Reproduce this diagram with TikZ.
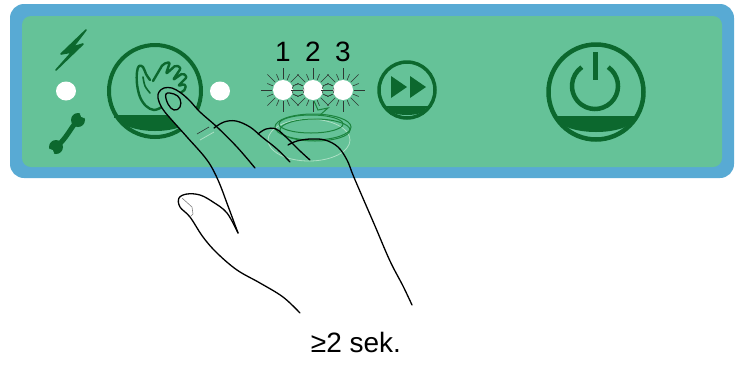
\documentclass[tikz,border=0pt]{standalone}
\usepackage{fontspec}
\setmainfont{Liberation Sans}
\usetikzlibrary{shapes.geometric}
\definecolor{panelgreen}{RGB}{101,194,152}
\definecolor{panelblue}{RGB}{88,170,212}
\definecolor{icongreen}{RGB}{12,104,46}
\definecolor{ringgreen}{RGB}{28,132,62}
\definecolor{palegreen}{RGB}{172,224,197}
\definecolor{raygray}{RGB}{45,55,50}
\begin{document}
\begin{tikzpicture}[x=1pt,y=-1pt,
  btn/.style={circle, draw=icongreen, line width=#1, inner sep=0pt},
  led/.style={circle, fill=white, minimum size=20pt, inner sep=0pt},
  whitedot/.style={ellipse, fill=white, minimum width=20pt, minimum height=19pt, inner sep=0pt},
  digit/.style={font=\fontsize{28}{30}\selectfont, text=black},
  handline/.style={draw=black, line width=1.3pt, line cap=round, line join=round},
  icon/.style={draw=icongreen, line width=2.4pt, line cap=round, line join=round},
  ray/.style={draw=raygray, line width=0.6pt},
  swirl/.style={draw=ringgreen, line width=1pt}
]
\useasboundingbox (0,0) rectangle (744,365);

% panel: blue frame with green face
\fill[panelblue, rounded corners=14pt] (10,4) rectangle (734,178);
\fill[panelgreen, rounded corners=9pt] (22,16) rectangle (722,167);

% status symbols on the left: power bolt, status dot, service wrench
\filldraw[icongreen, line width=1.6pt, line join=round]
  (86,30) -- (61,54) -- (72,52) -- (56,70) -- (83,44) -- (73,47) -- cycle;
\node[whitedot] (dotleft) at (66,91) {};
\draw[icongreen, line width=5pt, line cap=round]
  (77,121) .. controls (70,129) and (66,139) .. (57,146);
\fill[icongreen] (78,120) circle[radius=7];
\fill[icongreen] (56,147) circle[radius=7];
\fill[panelgreen] (84,114) circle[radius=4];
\fill[panelgreen] (50,153) circle[radius=4];

% hand button
\node[btn=4pt, minimum size=92pt] (handbtn) at (155,91) {};
\draw[icongreen, line width=3pt] (114,116) -- (196,116);
\fill[icongreen] (119,117) arc[start angle=180, end angle=0, x radius=36, y radius=14] -- cycle;
% open hand with palm
\draw[icon] plot[smooth, tension=0.6] coordinates
  {(150,80) (146,74) (143,67) (139,66) (137,72) (137,84) (140,97) (146,106) (154,110) (162,107)};
\draw[icongreen, line width=1.6pt, line cap=round] plot[smooth] coordinates {(143,77) (145,86) (150,93)};
% waving hand with fingers
\draw[icon, rounded corners=2pt]
  (153,81) -- (163,64) -- (170,62) -- (166,74) -- (176,65) -- (181,68) -- (173,80)
  -- (183,73) -- (187,77) -- (178,86) -- (185,84) -- (186,89) -- (176,96);

\node[whitedot] (dotright) at (220,91) {};

% program LEDs
\draw[raygray, line width=0.8pt] (283,90) -- (343,90);
\foreach \x/\n in {283/1, 313/2, 343/3} {
  \foreach \a in {0,22.5,...,337.5} {
    \pgfmathsetmacro{\len}{mod(round(\a/22.5),2)==0 ? 22 : 17}
    \draw[ray] ([shift={(\a:11)}]\x,90) -- ([shift={(\a:\len)}]\x,90);
  }
  \node[led] (led\n) at (\x,90) {};
  \node[digit] (lab\n) at (\x,52) {\n};
}
\draw[raygray, line width=0.5pt, densely dashed] (298,90) circle[radius=6];
\draw[raygray, line width=0.5pt, densely dashed] (328,90) circle[radius=6];

% fast forward button
\node[btn=3.5pt, minimum size=56pt] (ffbtn) at (407,90) {};
\draw[icongreen, line width=2.5pt] (385,107) -- (429,107);
\fill[icongreen] (388,108) arc[start angle=180, end angle=0, x radius=19, y radius=7] -- cycle;
\fill[icongreen] (391,76) -- (391,98) -- (407,87) -- cycle;
\fill[icongreen] (410,76) -- (410,98) -- (426,87) -- cycle;

% power button
\node[btn=4.5pt, minimum size=95pt] (powerbtn) at (596,92) {};
\draw[icongreen, line width=3pt] (555,117) -- (637,117);
\fill[icongreen] (558,118) arc[start angle=180, end angle=0, x radius=38, y radius=14] -- cycle;
\draw[icongreen, line width=4.5pt] ([shift={(-55:23)}]595,86) arc[start angle=-55, end angle=235, radius=23];
\draw[icongreen, line width=5pt] (595,52) -- (595,80);

% pointing finger covers what lies beneath it on the panel
\begin{scope}
  \clip[rounded corners=9pt] (22,16) rectangle (722,167);
  \fill[panelgreen] plot[smooth, tension=0.6] coordinates
    {(255,168) (237,147) (217,127) (200,112) (190,101) (181,93) (172,88) (164,88)
     (159,92) (158,98) (162,108) (170,118) (187,137) (207,160) (218,180)}
    -- (262,182) -- cycle;
\end{scope}

% swirl showing the selection cycling
\draw[draw=palegreen, line width=0.8pt] (309,140) ellipse[x radius=41, y radius=21];
\draw[swirl] (313,127) ellipse[x radius=38, y radius=13];
\draw[swirl] (315,130) ellipse[x radius=35, y radius=11];
\draw[swirl] (311,124) ellipse[x radius=32, y radius=9];
\draw[swirl] (320,115) -- (328,108) -- (318,110) -- (314,101);

% pointing hand
\draw[handline] plot[smooth, tension=0.6] coordinates
  {(255,168) (237,147) (217,127) (200,112) (190,101) (181,93) (172,88) (164,88)
   (159,92) (158,98) (162,108) (170,118) (187,137) (207,160) (218,180) (228,206) (238,233)};
\draw[handline] plot[smooth cycle, tension=0.7] coordinates
  {(166,94) (168,104) (174,110) (180,107) (180,99) (174,94)};
\draw[draw=raygray, line width=0.6pt] (197,134) -- (209,127);
\draw[draw=palegreen, line width=0.8pt] (200,140) -- (214,132);
% thumb
\draw[handline] plot[smooth, tension=0.6] coordinates
  {(238,233) (227,213) (213,202) (200,195) (187,194) (179,198) (180,207) (190,217)
   (203,237) (217,253) (237,270) (260,283) (283,297) (300,313)};
\draw[draw=gray, line width=0.6pt] (182,198) -- (192,207) -- (193,214) -- (190,217);
% curled fingers
\draw[handline] plot[smooth, tension=0.6] coordinates
  {(214,128) (224,122) (236,121) (250,127) (262,137) (277,149) (290,162)};
\draw[handline] plot[smooth, tension=0.6] coordinates
  {(258,134) (266,129) (276,129) (287,138) (299,150) (310,160)};
\draw[handline] plot[smooth, tension=0.6] coordinates
  {(288,145) (297,141) (310,139) (325,140) (338,147) (347,160) (353,175)
   (362,196) (375,226) (390,261) (403,286) (412,305)};

% hold time
\node[font=\fontsize{28}{30}\selectfont, anchor=base] (holdtime) at (356,352) {≥2 sek.};
\end{tikzpicture}
\end{document}
